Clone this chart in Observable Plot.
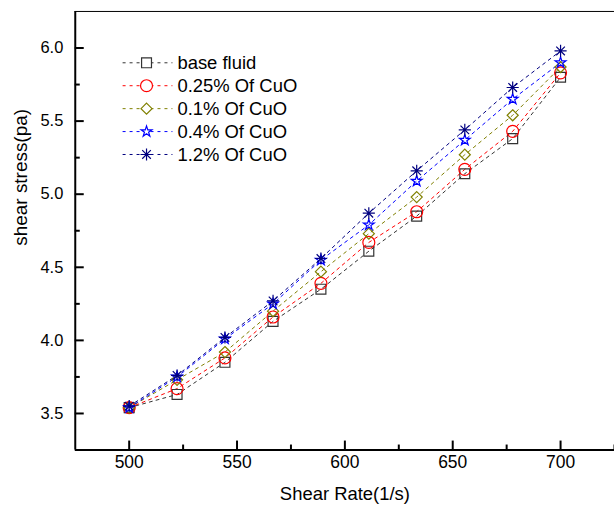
<!DOCTYPE html>
<html><head><meta charset="utf-8">
<script src="https://cdn.jsdelivr.net/npm/d3@7"></script>
<script src="https://cdn.jsdelivr.net/npm/@observablehq/plot@0.6"></script>
<style>
html,body{margin:0;padding:0;background:#fff;overflow:hidden;}
#chart svg{display:block;}
</style></head><body><div id="chart"></div>
<script>
// ---- data ----
const shearRate = [500, 522.2, 544.4, 566.7, 588.9, 611.1, 633.3, 655.6, 677.8, 700];
const seriesNames = ["base fluid", "0.25% Of CuO", "0.1% Of CuO", "0.4% Of CuO", "1.2% Of CuO"];
const baseFluid = [3.54, 3.63, 3.85, 4.13, 4.35, 4.61, 4.85, 5.14, 5.38, 5.80];
const cuo025    = [3.54, 3.67, 3.88, 4.16, 4.39, 4.67, 4.88, 5.17, 5.43, 5.83];
const cuo01     = [3.54, 3.73, 3.92, 4.20, 4.47, 4.73, 4.98, 5.27, 5.54, 5.87];
const cuo04     = [3.54, 3.75, 4.01, 4.25, 4.55, 4.79, 5.09, 5.37, 5.65, 5.90];
const cuo12     = [3.55, 3.76, 4.02, 4.27, 4.56, 4.87, 5.16, 5.44, 5.73, 5.98];
const seriesColors = ["#333333", "#ff0000", "#808000", "#0000ff", "#000080"];
const xMajorTicks = [500, 550, 600, 650, 700];
const xMinorTicks = [525, 575, 625, 675, 725];
const yMajorTicks = [3.5, 4.0, 4.5, 5.0, 5.5, 6.0];
const yMinorTicks = [3.75, 4.25, 4.75, 5.25, 5.75];
const xLabel = "Shear Rate(1/s)";
const yLabel = "shear stress(pa)";

// ---- build table ----
const seriesValues = [baseFluid, cuo025, cuo01, cuo04, cuo12];
const rows = [];
seriesNames.forEach((name, s) => {
  shearRate.forEach((x, i) => rows.push({series: name, s, x, y: seriesValues[s][i]}));
});
const bySeries = s => rows.filter(d => d.s === s);

const W = 616, H = 511, mL = 75, mR = 0, mT = 11, mB = 60;
const plotW = W - mL - mR, plotH = H - mT - mB;

const marks = [];
// dashed connecting lines
seriesNames.forEach((name, s) => {
  marks.push(Plot.line(bySeries(s), {x: "x", y: "y", stroke: seriesColors[s], strokeWidth: 1, strokeDasharray: "3,4"}));
});
// markers
marks.push(Plot.dot(bySeries(0), {x: "x", y: "y", symbol: "square", r: 5.6, stroke: seriesColors[0], fill: "none", strokeWidth: 1.2}));
marks.push(Plot.dot(bySeries(1), {x: "x", y: "y", symbol: "circle", r: 6, stroke: seriesColors[1], fill: "none", strokeWidth: 1.2}));
marks.push(Plot.dot(bySeries(2), {x: "x", y: "y", symbol: "diamond2", r: 5, stroke: seriesColors[2], fill: "none", strokeWidth: 1.2}));
marks.push(Plot.dot(bySeries(3), {x: "x", y: "y", symbol: "star", r: 3.4, stroke: seriesColors[3], fill: "none", strokeWidth: 1.2}));
marks.push(Plot.dot(bySeries(4), {x: "x", y: "y", symbol: "plus", r: 4, stroke: seriesColors[4], strokeWidth: 1.2}));
marks.push(Plot.dot(bySeries(4), {x: "x", y: "y", symbol: "times", r: 4, stroke: seriesColors[4], strokeWidth: 1.2}));
marks.push(Plot.dot(bySeries(4), {x: "x", y: "y", r: 1.5, fill: seriesColors[4]}));

// frame
marks.push(Plot.ruleY([6.25], {stroke: "#000", strokeWidth: 1}));
marks.push(Plot.ruleX([475], {stroke: "#000", strokeWidth: 2}));
marks.push(Plot.ruleY([3.25], {stroke: "#000", strokeWidth: 2}));
// inward ticks
marks.push(Plot.tickX(xMajorTicks, {x: d => d, insetTop: plotH - 9, stroke: "#000", strokeWidth: 2}));
marks.push(Plot.tickX(xMinorTicks, {x: d => d, insetTop: plotH - 5, stroke: "#000", strokeWidth: 2}));
marks.push(Plot.tickY(yMajorTicks, {y: d => d, insetRight: plotW - 9, stroke: "#000", strokeWidth: 2}));
marks.push(Plot.tickY(yMinorTicks, {y: d => d, insetRight: plotW - 5, stroke: "#000", strokeWidth: 2}));
// tick labels
marks.push(Plot.text(xMajorTicks, {x: d => d, text: d => String(d), frameAnchor: "bottom", dy: 18, fontSize: 17.5, fill: "#000"}));
marks.push(Plot.text(yMajorTicks, {y: d => d, text: d => d3.format(".1f")(d), frameAnchor: "left", dx: -12, textAnchor: "end", fontSize: 16.5, fill: "#000"}));
// axis titles
marks.push(Plot.text([xLabel], {text: d => d, frameAnchor: "bottom", dy: 50, fontSize: 18.5, fill: "#000"}));
marks.push(Plot.text([yLabel], {text: d => d, frameAnchor: "left", rotate: -90, dx: -55, dy: 15, fontSize: 19, fill: "#000"}));

const chart = Plot.plot({
  width: W, height: H,
  marginLeft: mL, marginRight: mR, marginTop: mT, marginBottom: mB,
  x: {domain: [475, 725], axis: null},
  y: {domain: [3.25, 6.25], axis: null},
  style: {fontFamily: "'Liberation Sans', Arial, sans-serif", fontSize: "17px", background: "white", color: "#000", overflow: "visible"},
  marks
});
document.getElementById("chart").appendChild(chart);

// ---- legend (inside plot, top-left) ----
const svg = d3.select(chart);
const lg = svg.append("g").attr("class", "legend").attr("text-anchor", "start")
  .attr("font-family", "'Liberation Sans', Arial, sans-serif");
const legendSymbols = [
  [[d3.symbolSquare, 5.6]],
  [[d3.symbolCircle, 6]],
  [[d3.symbolDiamond2, 5]],
  [[d3.symbolStar, 3.4]],
  [[d3.symbolPlus, 4], [d3.symbolTimes, 4]]
];
seriesNames.forEach((name, s) => {
  const yy = 63 + s * 23;
  const g = lg.append("g");
  g.append("line").attr("x1", 123).attr("x2", 173).attr("y1", yy).attr("y2", yy)
    .attr("stroke", seriesColors[s]).attr("stroke-width", 1).attr("stroke-dasharray", "3,4");
  legendSymbols[s].forEach(([t, r]) => {
    g.append("path").attr("d", d3.symbol(t, r * r * Math.PI)())
      .attr("transform", `translate(147,${yy})`)
      .attr("fill", "white").attr("stroke", seriesColors[s]).attr("stroke-width", 1.2);
  });
  if (s === 4) g.append("circle").attr("cx", 147).attr("cy", yy).attr("r", 1.5).attr("fill", seriesColors[s]);
  g.append("text").attr("x", 178).attr("y", yy + 6.5).attr("font-size", 18.5)
    .attr("text-anchor", "start").attr("fill", "#000").text(name);
});
</script>
</body></html>
